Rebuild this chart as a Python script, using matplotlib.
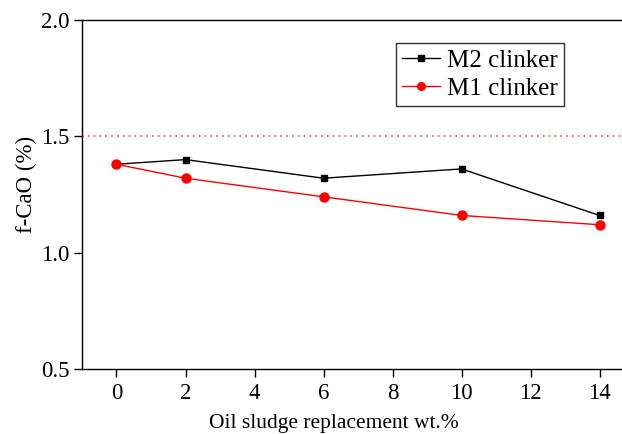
import matplotlib
matplotlib.use('Agg')
import matplotlib.pyplot as plt

# f-CaO content vs oil sludge replacement
replacement = [0, 2, 6, 10, 14]
m2_fcao = [1.38, 1.40, 1.32, 1.36, 1.16]
m1_fcao = [1.38, 1.32, 1.24, 1.16, 1.12]
limit = 1.5

plt.rcParams['font.family'] = ['Liberation Serif', 'DejaVu Serif']
plt.rcParams['font.size'] = 16

fig = plt.figure(figsize=(6.22, 4.34), dpi=100)
# axes run past the right edge of the picture, like the reference crop
ax = fig.add_axes([82 / 622, 1 - 369 / 434, (634 - 82) / 622, (369 - 20) / 434])

ax.plot(replacement, m2_fcao, color='black', lw=1, marker='s', ms=5, label='M2 clinker')
ax.plot(replacement, m1_fcao, color='red', lw=1, marker='o', ms=6.5, label='M1 clinker')
ax.axhline(limit, color='#ff4040', ls=(0, (1, 2.5)), lw=1.2)

ax.set_xlim(-1, 15)
ax.set_ylim(0.5, 2.0)
ax.set_xticks(range(0, 16, 2))
ax.set_yticks([0.5, 1.0, 1.5, 2.0])
ax.yaxis.set_major_formatter(matplotlib.ticker.FormatStrFormatter('%.1f'))
ax.tick_params(direction='out', length=6, width=1, labelsize=16.5, pad=4)
ax.tick_params(axis='y', pad=3)
for s in ax.spines.values():
    s.set_linewidth(1)

ax.set_xlabel('Oil sludge replacement wt.%', fontsize=15.5, va='baseline')
ax.xaxis.set_label_coords((334 - 82) / 552, -(428 - 369) / 349)
ax.set_ylabel('f-CaO (%)', fontsize=16.5, va='center')
ax.yaxis.set_label_coords((26 - 82) / 552, (369 - 184) / 349)

leg = ax.legend(loc='upper left', bbox_to_anchor=((396 - 82) / 552, 1 - (43 - 20) / 349),
                frameon=True, fancybox=False, edgecolor='black', fontsize=18,
                handlelength=1.5, borderpad=0.25, labelspacing=0.22, handletextpad=0.3,
                borderaxespad=0, markerscale=0.85)
leg.get_frame().set_linewidth(1)

fig.savefig('out.png', dpi=100)
